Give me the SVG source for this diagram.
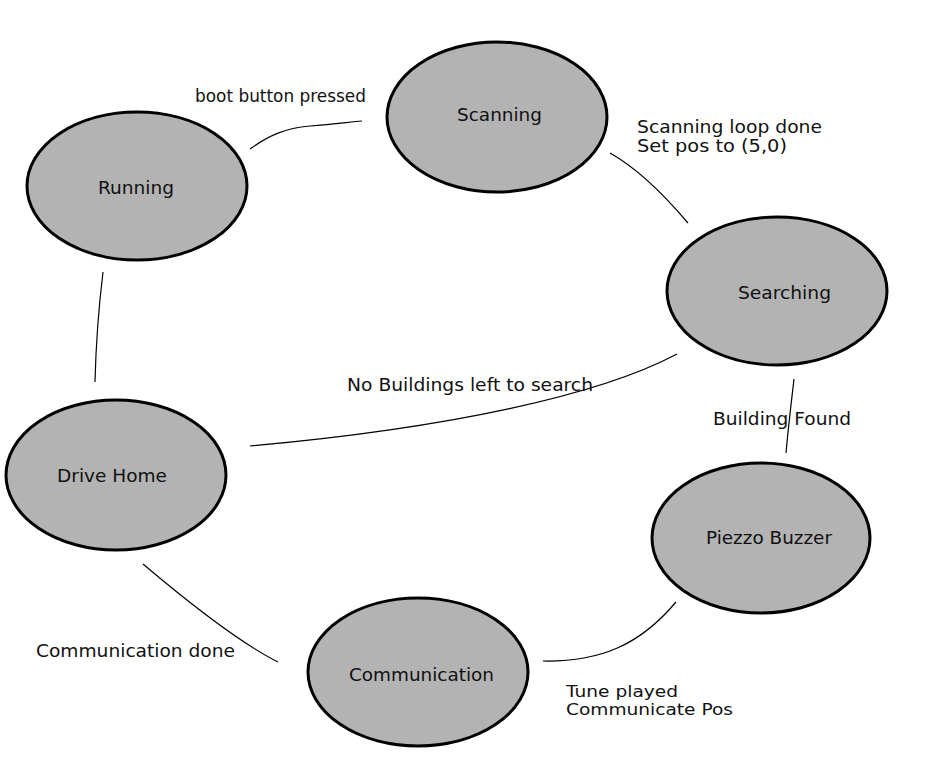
<svg xmlns="http://www.w3.org/2000/svg" width="927" height="777" viewBox="0 0 927 777">
<style>
.node ellipse{fill:#b3b3b3;stroke:#000;stroke-width:3}
text{font-family:"DejaVu Sans",Verdana,sans-serif;font-size:18px;fill:#111}
.lbl{font-size:17.5px}
.sm{font-size:16px}
.edges path{fill:none;stroke:#000;stroke-width:1.2}
</style>
<rect width="927" height="777" fill="#fff"/>
<g class="edges" id="connectors">
<path d="M250,149 C268,136 285,128 310,126 S350,122 362,121"/>
<path d="M610,153 C635,167 660,190 688,223"/>
<path d="M677,354 C600,395 450,428 250,446"/>
<path d="M103,272 C99,305 96,340 95,382"/>
<path d="M794,379 C791,405 788,430 786,453"/>
<path d="M676,602 C640,645 600,662 543,661"/>
<path d="M143,564 C182,597 238,642 278,662"/>
</g>
<g id="running" class="node"><ellipse cx="137" cy="186" rx="110" ry="74"/><text x="98" y="194" textLength="76" lengthAdjust="spacingAndGlyphs">Running</text></g>
<g id="scanning" class="node"><ellipse cx="497" cy="117" rx="110" ry="75"/><text x="457" y="121" textLength="85" lengthAdjust="spacingAndGlyphs">Scanning</text></g>
<g id="searching" class="node"><ellipse cx="777" cy="291" rx="110" ry="74"/><text x="738" y="299" textLength="93" lengthAdjust="spacingAndGlyphs">Searching</text></g>
<g id="drivehome" class="node"><ellipse cx="116" cy="475" rx="110" ry="75"/><text x="57" y="482" textLength="110" lengthAdjust="spacingAndGlyphs">Drive Home</text></g>
<g id="piezzo" class="node"><ellipse cx="761" cy="538" rx="109" ry="75"/><text x="706" y="544" textLength="126" lengthAdjust="spacingAndGlyphs">Piezzo Buzzer</text></g>
<g id="communication" class="node"><ellipse cx="418" cy="672" rx="110" ry="74"/><text x="349" y="681" textLength="145" lengthAdjust="spacingAndGlyphs">Communication</text></g>
<g id="labels">
<text class="lbl" x="195" y="102" textLength="171" lengthAdjust="spacingAndGlyphs">boot button pressed</text>
<text class="lbl" x="637" y="133" textLength="185" lengthAdjust="spacingAndGlyphs">Scanning loop done</text>
<text class="lbl" x="637" y="152" textLength="150" lengthAdjust="spacingAndGlyphs">Set pos to (5,0)</text>
<text class="lbl" x="347" y="391" textLength="246" lengthAdjust="spacingAndGlyphs">No Buildings left to search</text>
<text class="lbl" x="713" y="425" textLength="138" lengthAdjust="spacingAndGlyphs">Building Found</text>
<text class="lbl" x="36" y="657" textLength="199" lengthAdjust="spacingAndGlyphs">Communication done</text>
<text class="sm" x="566" y="697" textLength="112" lengthAdjust="spacingAndGlyphs">Tune played</text>
<text class="sm" x="566" y="715" textLength="167" lengthAdjust="spacingAndGlyphs">Communicate Pos</text>
</g>
</svg>
